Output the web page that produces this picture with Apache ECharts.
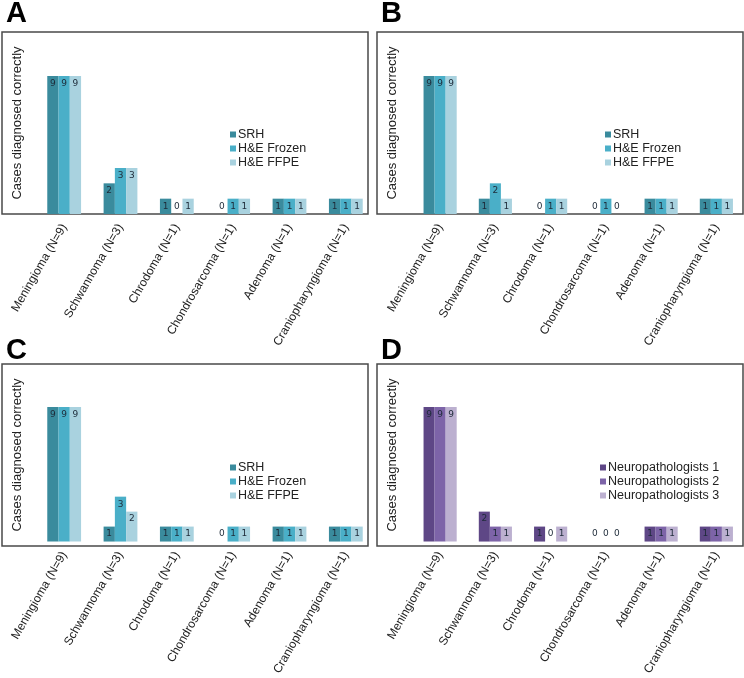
<!DOCTYPE html>
<html>
<head>
<meta charset="utf-8">
<script src="https://cdn.jsdelivr.net/npm/echarts@6/dist/echarts.min.js"></script>
<style>
html,body{margin:0;padding:0;background:#fff;}
#chart{width:744px;height:678px;}
</style>
</head>
<body>
<div id="chart"></div>
<script>
const categories = ['Meningioma (N=9)', 'Schwannoma (N=3)', 'Chrodoma (N=1)', 'Chondrosarcoma (N=1)', 'Adenoma (N=1)', 'Craniopharyngioma (N=1)'];
const panelLetters = ['A', 'B', 'C', 'D'];
const seriesNamesHE = ['SRH', 'H&E Frozen', 'H&E FFPE'];
const seriesNamesNP = ['Neuropathologists 1', 'Neuropathologists 2', 'Neuropathologists 3'];

const panelA_SRH = [9, 2, 1, 0, 1, 1];
const panelA_Frozen = [9, 3, 0, 1, 1, 1];
const panelA_FFPE = [9, 3, 1, 1, 1, 1];

const panelB_SRH = [9, 1, 0, 0, 1, 1];
const panelB_Frozen = [9, 2, 1, 1, 1, 1];
const panelB_FFPE = [9, 1, 1, 0, 1, 1];

const panelC_SRH = [9, 1, 1, 0, 1, 1];
const panelC_Frozen = [9, 3, 1, 1, 1, 1];
const panelC_FFPE = [9, 2, 1, 1, 1, 1];

const panelD_NP1 = [9, 2, 1, 0, 1, 1];
const panelD_NP2 = [9, 1, 0, 0, 1, 1];
const panelD_NP3 = [9, 1, 1, 0, 1, 1];

const tealColors = ['#3a8b9d', '#4aafc8', '#a9d2df'];
const purpleColors = ['#5e4786', '#7d64a8', '#bcb0d0'];

const panels = [
  { names: seriesNamesHE, data: [panelA_SRH, panelA_Frozen, panelA_FFPE], colors: tealColors, ox: 0, oy: 0, gx: 36, lx: 230, ly: 128 },
  { names: seriesNamesHE, data: [panelB_SRH, panelB_Frozen, panelB_FFPE], colors: tealColors, ox: 375, oy: 0, gx: 37.5, lx: 230, ly: 128 },
  { names: seriesNamesHE, data: [panelC_SRH, panelC_Frozen, panelC_FFPE], colors: tealColors, ox: 0, oy: 332, gx: 36, lx: 230, ly: 129 },
  { names: seriesNamesNP, data: [panelD_NP1, panelD_NP2, panelD_NP3], colors: purpleColors, ox: 375, oy: 332, gx: 37.5, lx: 225, ly: 129 }
];

const FONT = 'Liberation Sans, Arial, Helvetica, sans-serif';

const grid = [], xAxis = [], yAxis = [], series = [], legend = [], graphic = [];

panels.forEach((p, i) => {
  grid.push({ left: p.ox + p.gx, top: p.oy + 30, width: 338, height: 184, containLabel: false });
  xAxis.push({
    type: 'category', gridIndex: i, data: categories,
    axisLine: { show: false }, axisTick: { show: false },
    axisLabel: { rotate: 60, margin: 11, fontSize: 12, color: '#222', fontFamily: FONT, interval: 0 }
  });
  yAxis.push({
    type: 'value', gridIndex: i, min: 0, max: 12,
    axisLine: { show: false }, axisTick: { show: false }, axisLabel: { show: false }, splitLine: { show: false }
  });
  p.names.forEach((name, k) => {
    series.push({
      type: 'bar', name: name, xAxisIndex: i, yAxisIndex: i,
      barGap: '0%', barCategoryGap: '40%',
      itemStyle: { color: p.colors[k] },
      label: {
        show: true, position: 'insideTop', distance: 3, fontSize: 9,
        fontFamily: 'DejaVu Sans', color: '#1d2a38'
      },
      data: p.data[k].map(v => v === 0
        ? { value: v, label: { position: 'insideBottom', distance: 3 } }
        : v)
    });
  });
  legend.push({
    data: p.names, orient: 'vertical', padding: 0,
    left: p.ox + p.lx, top: p.oy + p.ly,
    icon: 'rect', itemWidth: 6, itemHeight: 6, itemGap: 1,
    textStyle: { fontSize: 12.5, color: '#222', fontFamily: FONT, padding: [0, 0, 0, -3] },
    selectedMode: false
  });
  graphic.push({
    type: 'rect', silent: true,
    shape: { x: p.ox + 2, y: p.oy + 32, width: 366, height: 182 },
    style: { fill: 'none', stroke: '#4a4a4a', lineWidth: 1.5 }
  });
  graphic.push({
    type: 'text', silent: true,
    x: p.ox + 17, y: p.oy + 123, rotation: Math.PI / 2,
    style: { text: 'Cases diagnosed correctly', fontSize: 13, fill: '#222', fontFamily: FONT, align: 'center', verticalAlign: 'middle' }
  });
  graphic.push({
    type: 'text', silent: true,
    x: p.ox + 6, y: p.oy + (i >= 2 ? 4 : -1),
    style: { text: panelLetters[i], fontSize: 29, fontWeight: 'bold', fill: '#000', fontFamily: FONT, verticalAlign: 'top' }
  });
});

const chart = echarts.init(document.getElementById('chart'), null, { renderer: 'canvas' });
chart.setOption({
  animation: false,
  backgroundColor: '#fff',
  grid, xAxis, yAxis, series, legend, graphic
});
</script>
</body>
</html>
